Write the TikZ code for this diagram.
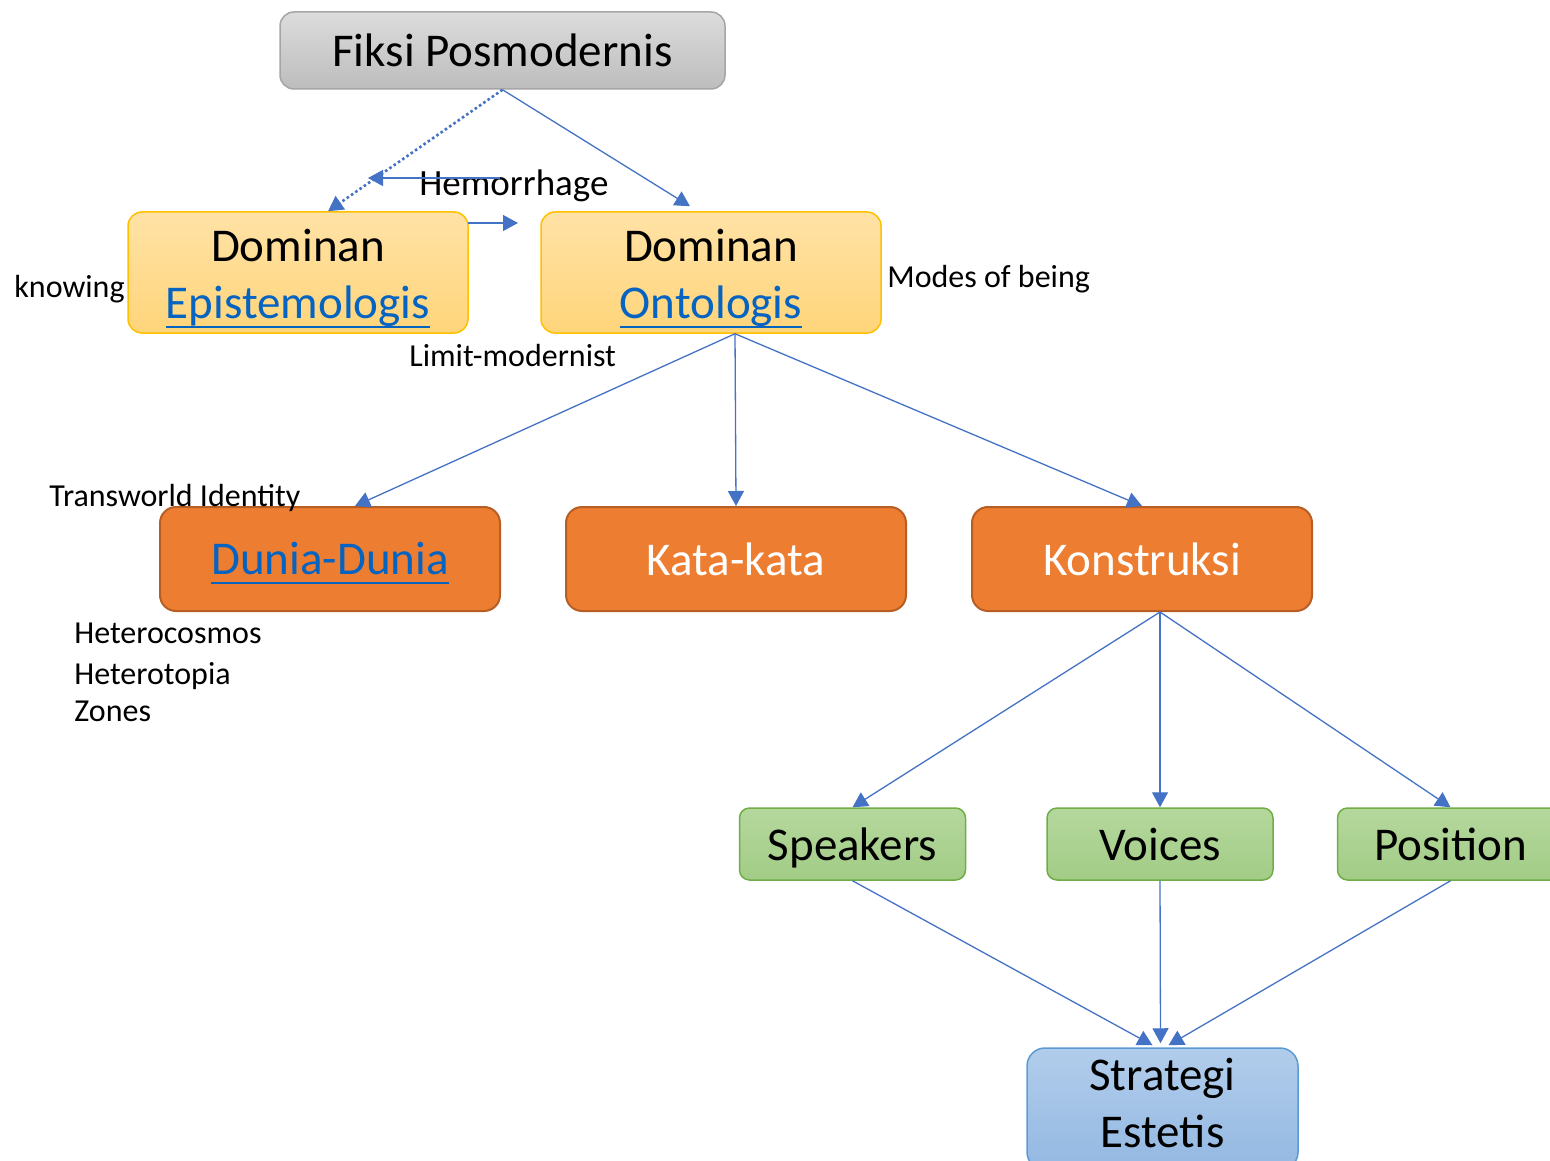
\documentclass[tikz,border=0pt]{standalone}
\usepackage{fontspec}
\setmainfont{Carlito}
\usetikzlibrary{arrows.meta}
\definecolor{panah}{HTML}{4472C4}
\definecolor{tautan}{HTML}{0563C1}
\definecolor{abuA}{HTML}{DCDCDC}
\definecolor{abuB}{HTML}{BDBDBD}
\definecolor{abuGaris}{HTML}{A5A5A5}
\definecolor{kuningA}{HTML}{FFE2A6}
\definecolor{kuningB}{HTML}{FFD57A}
\definecolor{kuningGaris}{HTML}{FFC000}
\definecolor{oranye}{HTML}{ED7D31}
\definecolor{oranyeGaris}{HTML}{B65E24}
\definecolor{hijauA}{HTML}{B5D89D}
\definecolor{hijauB}{HTML}{A2CC86}
\definecolor{hijauGaris}{HTML}{70AD47}
\definecolor{biruA}{HTML}{B2CDEB}
\definecolor{biruB}{HTML}{93B8E2}
\definecolor{biruGaris}{HTML}{5B9BD5}
\newcommand{\tautanteks}[1]{\textcolor{tautan}{\setbox0\hbox{#1}\rlap{\smash{\rule[-4.5pt]{\wd0}{1.1pt}}}\box0}}
\tikzset{
  kotak/.style={rounded corners=7pt, line width=0.75pt, align=center,
    font=\fontsize{23.5}{28.5}\selectfont, inner sep=0pt},
  akar/.style={kotak, top color=abuA, bottom color=abuB, draw=abuGaris,
    minimum width=222.5pt, minimum height=38.5pt},
  dominan/.style={kotak, top color=kuningA, bottom color=kuningB, draw=kuningGaris,
    minimum width=170pt, minimum height=60.5pt},
  ranah/.style={kotak, fill=oranye, draw=oranyeGaris, text=white, rounded corners=8pt,
    line width=1pt, minimum width=170pt, minimum height=52pt},
  unsur/.style={kotak, top color=hijauA, bottom color=hijauB, draw=hijauGaris,
    rounded corners=5pt, minimum width=113pt, minimum height=36pt,
    text height=21pt, text depth=5pt},
  hasil/.style={kotak, top color=biruA, bottom color=biruB, draw=biruGaris,
    rounded corners=9pt, minimum width=135.5pt, minimum height=61pt},
  catatan/.style={font=\fontsize{16}{19}\selectfont, inner sep=0pt},
  panah/.style={draw=panah, line width=0.65pt, -{Triangle[length=7.5pt,width=8pt]}}
}
\begin{document}
\begin{tikzpicture}[x=0.5pt, y=-0.5pt]
  \useasboundingbox (0,0) rectangle (1550,1160);

  % Simpul
  \node[akar] (fiksi) at (502.5,50.5) {Fiksi Posmodernis};
  \node[dominan] (epis) at (298,272.5) {\rule{0pt}{22pt}Dominan\\\tautanteks{Epistemologis}};
  \node[dominan] (onto) at (711,272.5) {\rule{0pt}{22pt}Dominan\\\tautanteks{Ontologis}};
  \node[ranah] (dunia) at (330,559) {\tautanteks{Dunia-Dunia}};
  \node[ranah] (kata) at (736,559) {Kata-kata};
  \node[ranah] (konstruksi) at (1142,559) {Konstruksi};
  \node[unsur] (speakers) at (852.5,844) {Speakers};
  \node[unsur] (voices) at (1160,844) {Voices};
  \node[unsur] (position) at (1450.5,844) {Position};
  \node[hasil] (strategi) at (1162.5,1109) {Strategi\\Estetis\rule[-6.5pt]{0pt}{6.5pt}};

  % Catatan
  \node[catatan, anchor=west] (hemorrhage) at (419,186) {\fontsize{18.5}{21}\selectfont Hemorrhage};
  \node[catatan, anchor=east] (knowing) at (125,289) {knowing};
  \node[catatan, anchor=west] (modes) at (887,279) {Modes of being};
  \node[catatan, anchor=west] (limit) at (409,356) {Limit-modernist};
  \node[catatan, anchor=west] (transworld) at (49,498) {Transworld Identity};
  \node[catatan, anchor=west] (heterocosmos) at (74,633) {Heterocosmos};
  \node[catatan, anchor=west] (heterotopia) at (74,676) {Heterotopia};
  \node[catatan, anchor=west] (zones) at (74,711) {Zones};

  \coordinate (hemA) at (500,178);
  \coordinate (hemB) at (368,178);
  \coordinate (episA) at (468,223);
  \coordinate (episB) at (518,223);

  % Panah
  \draw[panah, line width=1.3pt, dash pattern=on 1.3pt off 1.3pt] (fiksi.south) -- ([xshift=15pt]epis.north);
  \draw[panah] (fiksi.south) -- ([xshift=-10.5pt,yshift=2.5pt]onto.north);
  \draw[panah] (hemA) -- (hemB);
  \draw[panah] (episA) -- (episB);
  \draw[panah] ([xshift=12pt]onto.south) -- ([xshift=12.5pt]dunia.north);
  \draw[panah] ([xshift=12pt]onto.south) -- (kata.north);
  \draw[panah] ([xshift=12pt]onto.south) -- (konstruksi.north);
  \draw[panah] ([xshift=9pt]konstruksi.south) -- (speakers.north);
  \draw[panah] ([xshift=9pt]konstruksi.south) -- (voices.north);
  \draw[panah] ([xshift=9pt]konstruksi.south) -- (position.north);
  \draw[panah] (speakers.south) -- ([xshift=-5pt,yshift=1pt]strategi.north);
  \draw[panah] (voices.south) -- ([xshift=-1pt,yshift=2pt]strategi.north);
  \draw[panah] (position.south) -- ([xshift=3pt,yshift=1pt]strategi.north);
\end{tikzpicture}
\end{document}
